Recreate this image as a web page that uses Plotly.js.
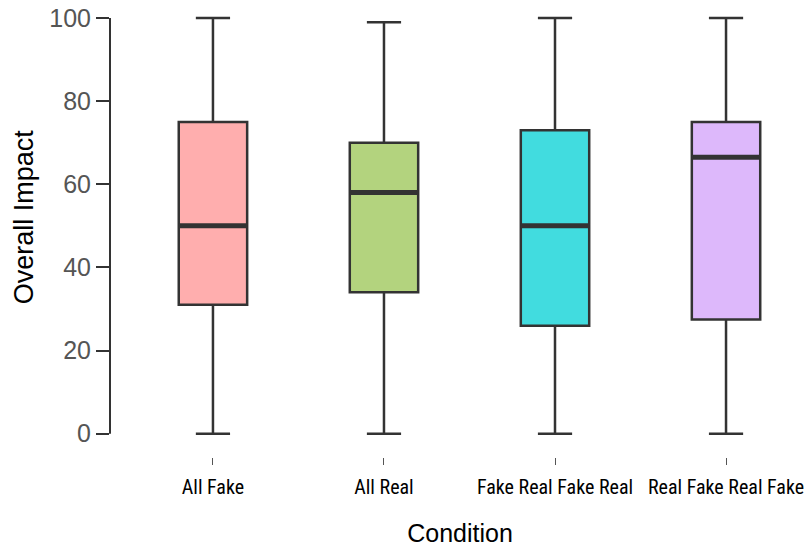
<!DOCTYPE html>
<html>
<head>
<meta charset="utf-8">
<script src="https://cdn.plot.ly/plotly-3.0.1.min.js"></script>
<style>
  html, body { margin: 0; padding: 0; background: #fff; }
  #chart { width: 810px; height: 547px; }
</style>
</head>
<body>
<div id="chart"></div>
<script>
// Overall Impact by condition: five-number summaries per group
const conditions = ["All Fake", "All Real", "Fake Real Fake Real", "Real Fake Real Fake"];
const lowerWhisker = [0, 0, 0, 0];
const q1Values = [31, 34, 26, 27.5];
const medianValues = [50, 58, 50, 66.5];
const q3Values = [75, 70, 73, 75];
const upperWhisker = [100, 99, 100, 100];
const fillColors = ["#FFAEAE", "#B3D37E", "#41DCDF", "#DDB8FB"];

const boxWidth = 0.4;
const outline = "#333333";

const traces = conditions.map((name, i) => ({
  type: "box",
  name: name,
  x: [name],
  lowerfence: [lowerWhisker[i]],
  q1: [q1Values[i]],
  median: [medianValues[i]],
  q3: [q3Values[i]],
  upperfence: [upperWhisker[i]],
  width: boxWidth,
  whiskerwidth: 0.5,
  fillcolor: fillColors[i],
  line: { color: outline, width: 2.5 },
  boxpoints: false,
  hoverinfo: "skip",
  showlegend: false
}));

// Thick median bars drawn over each box
const medianShapes = conditions.map((name, i) => ({
  type: "line",
  xref: "x", yref: "y",
  x0: i - boxWidth / 2, x1: i + boxWidth / 2,
  y0: medianValues[i], y1: medianValues[i],
  line: { color: outline, width: 5 },
  layer: "above"
}));

// Y axis spine only spans the 0–100 scale
const spine = {
  type: "line",
  xref: "paper", yref: "y",
  x0: 0, x1: 0, y0: 0, y1: 100,
  line: { color: outline, width: 2 }
};

const layout = {
  width: 810,
  height: 547,
  margin: { l: 110, r: 0, t: 8, b: 90 },
  paper_bgcolor: "#ffffff",
  plot_bgcolor: "#ffffff",
  showlegend: false,
  xaxis: {
    type: "category",
    categoryarray: conditions,
    range: [-0.602, 3.491],
    showline: false,
    showgrid: false,
    zeroline: false,
    ticks: "outside",
    ticklen: 7,
    tickwidth: 1,
    tickcolor: "#555555",
    tickangle: 0,
    ticklabelstandoff: 5,
    automargin: false,
    tickfont: { family: "Liberation Sans Narrow, Roboto Condensed, DejaVu Sans Condensed, sans-serif", size: 20, color: "#000000" },
    title: {
      text: "Condition",
      font: { family: "Liberation Sans, Arial, sans-serif", size: 25, color: "#000000" },
      standoff: 26
    }
  },
  yaxis: {
    range: [-5.6, 102.4],
    dtick: 20,
    tick0: 0,
    showline: false,
    showgrid: false,
    zeroline: false,
    ticks: "outside",
    ticklen: 13,
    tickwidth: 2,
    tickcolor: outline,
    tickfont: { family: "Liberation Sans, Arial, sans-serif", size: 25, color: "#555555" }
  },
  annotations: [{
    text: "Overall Impact",
    xref: "paper", yref: "paper",
    x: 0, y: 0.534,
    xanchor: "center", yanchor: "middle",
    xshift: -86,
    textangle: -90,
    showarrow: false,
    font: { family: "Liberation Sans, Arial, sans-serif", size: 27, color: "#000000" }
  }],
  shapes: [spine].concat(medianShapes)
};

Plotly.newPlot("chart", traces, layout, { displayModeBar: false, staticPlot: true });
</script>
</body>
</html>
